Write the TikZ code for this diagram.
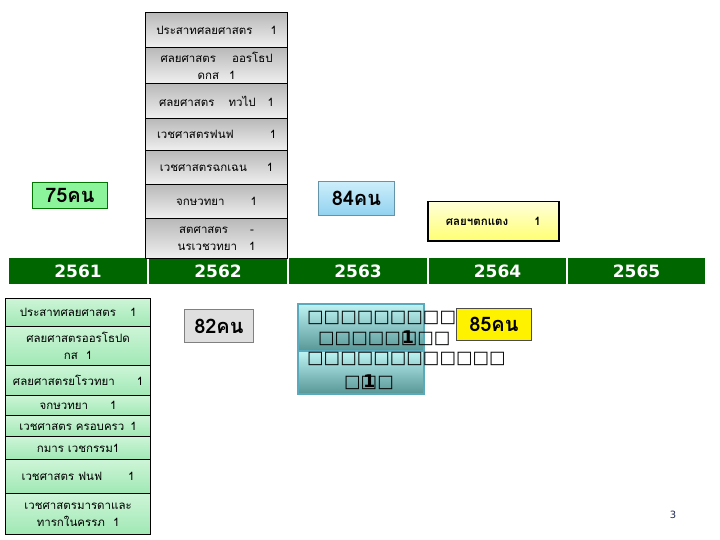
\documentclass[tikz,border=0pt]{standalone}
\usepackage{fontspec}
\newfontfamily\thaifont[Script=Thai]{Loma}
\newfontfamily\dejavu{DejaVu Sans}
\definecolor{barg}{RGB}{0,102,0}
\definecolor{tealtop}{RGB}{190,244,244}
\definecolor{tealbot}{RGB}{88,150,150}
\definecolor{tealedge}{RGB}{90,170,190}
\definecolor{paleg1}{RGB}{205,245,215}
\definecolor{paleg2}{RGB}{160,232,180}
\definecolor{grn75}{RGB}{140,245,155}
\definecolor{blue84a}{RGB}{205,238,250}
\definecolor{blue84b}{RGB}{145,210,240}
\definecolor{navy}{RGB}{30,40,80}
\begin{document}
\begin{tikzpicture}[x=1pt,y=-1pt,
  thai/.style={font=\thaifont\fontsize{11.5}{17}\selectfont},
  topbox/.style={draw=black,line width=1.2pt,top color=gray!55,bottom color=gray!12,
    minimum width=142pt,inner sep=0pt,anchor=north west,align=center,thai},
  botbox/.style={draw=black,line width=1.2pt,top color=paleg1,bottom color=paleg2,
    minimum width=145pt,inner sep=0pt,anchor=north west,align=center,thai},
  yearbox/.style={draw=white,line width=1pt,fill=barg,text=white,minimum height=27pt,
    inner sep=0pt,anchor=north west,font=\dejavu\bfseries\fontsize{17}{19}\selectfont},
  countbox/.style={inner sep=0pt,anchor=north west,font=\thaifont\bfseries\fontsize{20}{22}\selectfont},
  tealbox/.style={draw=tealedge,line width=1.5pt,top color=tealtop,bottom color=tealbot,
    minimum width=126pt,inner sep=0pt,anchor=north west},
  tofu/.style={inner sep=0pt,anchor=west,font=\dejavu\bfseries\fontsize{17.5}{19}\selectfont}
]
\useasboundingbox (0,0) rectangle (720,540);

% year bar
\node[yearbox,minimum width=139pt] (y1) at (8,257) {2561};
\node[yearbox,minimum width=139pt] (y2) at (148,257) {2562};
\node[yearbox,minimum width=139pt] (y3) at (288,257) {2563};
\node[yearbox,minimum width=138pt] (y4) at (428,257) {2564};
\node[yearbox,minimum width=138pt] (y5) at (567,257) {2565};

% 2562 column
\node[topbox,minimum height=35pt] (t1) at (145,12) {ประสาทศลยศาสตร\hspace{18pt}1};
\node[topbox,minimum height=36pt] (t2) at (145,47) {ศลยศาสตร\hspace{16pt}ออรโธป\\ดกส\hspace{10pt}1};
\node[topbox,minimum height=35pt] (t3) at (145,83) {ศลยศาสตร\hspace{14pt}ทวไป\hspace{12pt}1};
\node[topbox,minimum height=32pt] (t4) at (145,118) {เวชศาสตรฟนฟ\hspace{36pt}1};
\node[topbox,minimum height=34pt] (t5) at (145,150) {เวชศาสตรฉกเฉน\hspace{20pt}1};
\node[topbox,minimum height=34pt] (t6) at (145,184) {จกษวทยา\hspace{26pt}1};
\node[topbox,minimum height=40pt] (t7) at (145,218) {สตศาสตร\hspace{22pt}-\\นรเวชวทยา\hspace{12pt}1};

% 2561 column
\node[botbox,minimum height=28pt] (b1) at (5,298) {ประสาทศลยศาสตร\hspace{14pt}1};
\node[botbox,minimum height=39pt] (b2) at (5,326) {ศลยศาสตรออรโธปด\hspace{22pt}\\กส\hspace{8pt}1};
\node[botbox,minimum height=30pt] (b3) at (5,365) {ศลยศาสตรยโรวทยา\hspace{22pt}1};
\node[botbox,minimum height=20pt] (b4) at (5,395) {จกษวทยา\hspace{22pt}1};
\node[botbox,minimum height=21pt] (b5) at (5,415) {เวชศาสตร ครอบครว\hspace{6pt}1};
\node[botbox,minimum height=23pt] (b6) at (5,436) {กมาร เวชกรรม1};
\node[botbox,minimum height=34pt] (b7) at (5,459) {เวชศาสตร ฟนฟ\hspace{26pt}1};
\node[botbox,minimum height=41pt] (b8) at (5,493) {เวชศาสตรมารดาและ\\ทารกในครรภ\hspace{8pt}1};

% counts
\node[countbox,draw=green!45!black,line width=0.8pt,fill=grn75,minimum width=75pt,minimum height=26pt] (c75) at (32,182) {75คน};
\node[countbox,draw=blue84b!70!black,line width=0.8pt,top color=blue84a,bottom color=blue84b,minimum width=76pt,minimum height=34pt] (c84) at (318,181) {84คน};
\node[countbox,draw=gray,line width=0.8pt,fill=gray!25,minimum width=69pt,minimum height=33pt] (c82) at (184,309) {82คน};

% 2564 box
\node[draw=black,line width=1.5pt,top color=yellow!15,bottom color=yellow!55,minimum width=131pt,
  minimum height=39pt,inner sep=0pt,anchor=north west,font=\thaifont\bfseries\fontsize{11.5}{14}\selectfont] (s1) at (427,201) {ศลยฯตกแตง\hspace{26pt}1};

% 2563 teal boxes
\node[tealbox,minimum height=47pt] (m1) at (297,303) {};
\node[tealbox,minimum height=43pt] (m2) at (297,350) {};
\node[tofu] (l1) at (307,318) {□□□□□□□□□□};
\node[tofu] (l2) at (318,338) {□□□□□\rlap{\hspace{1pt}1}□□□};
\node[tofu] (l3) at (307,359) {□□□□□□□□□□□□};
\node[tofu] (l4) at (344,382) {□□\llap{1\hspace{2pt}}□};

\node[countbox,draw=gray!60!black,line width=0.8pt,fill=yellow,minimum width=75pt,minimum height=32pt] (c85) at (456,308) {85คน};

% page number
\node[inner sep=0pt,text=navy,font=\dejavu\fontsize{10}{11}\selectfont] (pg) at (673,515) {3};
\end{tikzpicture}
\end{document}
